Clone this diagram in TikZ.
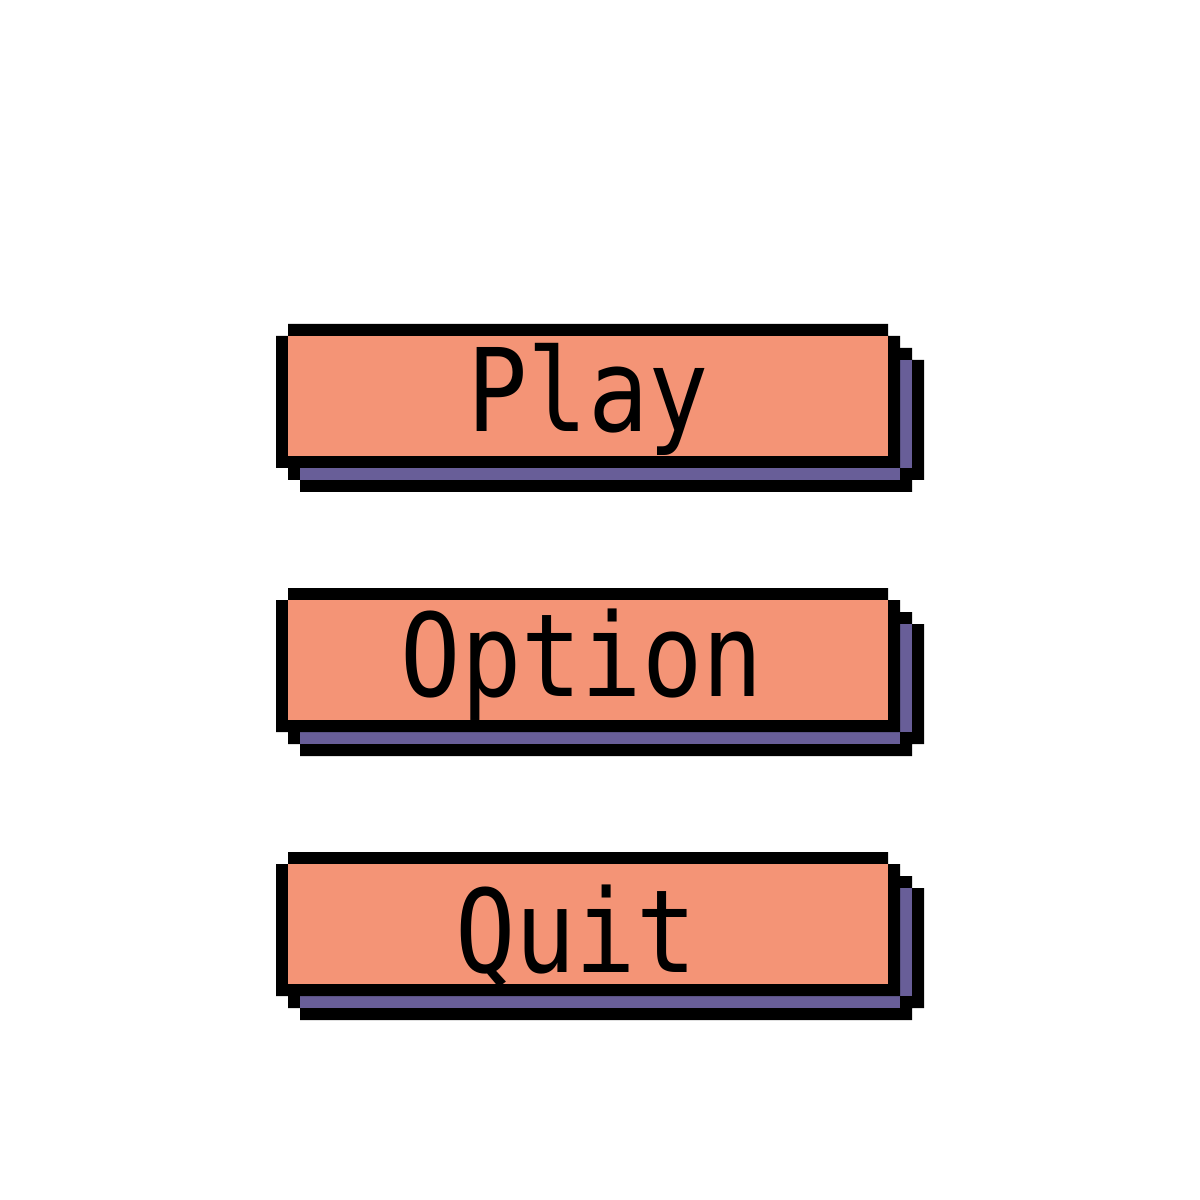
\documentclass[tikz,border=0pt]{standalone}
\usepackage{fontspec}
\usepackage{tikz}
\newfontfamily\pixelfont[FakeStretch=0.87]{DejaVu Sans Mono}
\definecolor{salmon}{HTML}{F49476}
\definecolor{dusk}{HTML}{685E98}

\begin{document}
\begin{tikzpicture}[x={(0.12cm,0cm)}, y={(0cm,-0.12cm)}]
 \tikzstyle{ink} = [fill=black]
 \tikzstyle{face} = [fill=salmon]
 \tikzstyle{shade} = [fill=dusk]
 \tikzstyle{caption} = [inner sep=0,anchor=base,font=\pixelfont\fontsize{32.8}{36}\selectfont]
 % one button, top row at #1
 \newcommand{\menubtn}[1]{%
  % shadow
  \fill[ink] (24,#1+12) -- (75,#1+12) -- (75,#1+2) -- (76,#1+2) -- (76,#1+3) -- (77,#1+3)
   -- (77,#1+13) -- (76,#1+13) -- (76,#1+14) -- (25,#1+14) -- (25,#1+13) -- (24,#1+13) -- cycle;
  \fill[shade] (75,#1+3) rectangle (76,#1+12);
  \fill[shade] (25,#1+12) rectangle (75,#1+13);
  % frame and face
  \fill[ink] (24,#1) -- (74,#1) -- (74,#1+1) -- (75,#1+1) -- (75,#1+12) -- (23,#1+12)
   -- (23,#1+1) -- (24,#1+1) -- cycle;
  \fill[face] (24,#1+1) rectangle (74,#1+11);
 }

 \useasboundingbox[fill=white] (0,0) rectangle (100,100);

 \menubtn{27}
 \menubtn{49}
 \menubtn{71}

 % Labels
 \node[caption] (play) at (49,36) {Play};
 \node[caption] (option) at (48.5,58) {Option};
 \node[caption] (quit) at (48,81) {Quit};

\end{tikzpicture}
\end{document}
